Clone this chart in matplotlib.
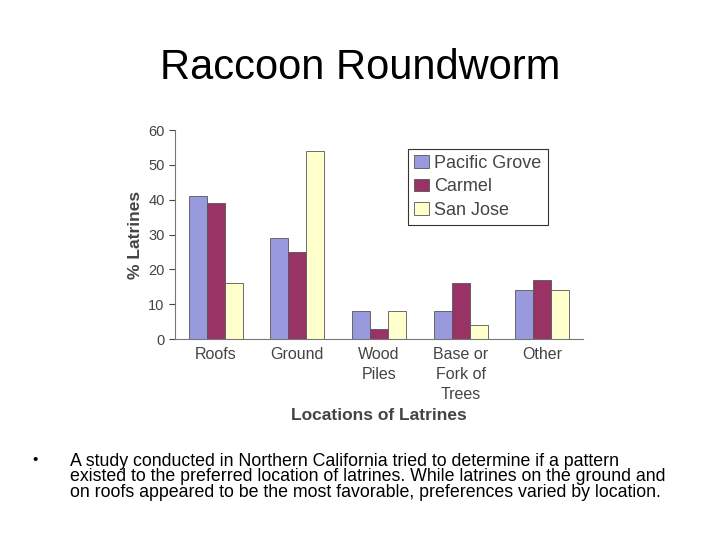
import matplotlib
matplotlib.use("Agg")
import matplotlib.pyplot as plt
import numpy as np

plt.rcParams["font.family"] = ["Liberation Sans", "DejaVu Sans"]

categories = ["Roofs", "Ground", "Wood\nPiles", "Base or\nFork of\nTrees", "Other"]
series_names = ["Pacific Grove", "Carmel", "San Jose"]
pacific_grove = [41, 29, 8, 8, 14]
carmel = [39, 25, 3, 16, 17]
san_jose = [16, 54, 8, 4, 14]
colors = ["#9999dd", "#993366", "#ffffcc"]

fig = plt.figure(figsize=(7.2, 5.4), dpi=100)
fig.patch.set_facecolor("white")
fig.text(0.5, 0.874, "Raccoon Roundworm", ha="center", va="center", fontsize=30)

ax = fig.add_axes([0.243, 0.372, 0.567, 0.387])
x = np.arange(len(categories))
w = 0.22
for i, (vals, name) in enumerate(zip([pacific_grove, carmel, san_jose], series_names)):
    ax.bar(x + (i - 1) * w, vals, w, color=colors[i], edgecolor="#555555", linewidth=0.6, label=name)
ax.set_xlim(-0.5, 4.5)
ax.set_ylim(0, 60)
ax.set_yticks(range(0, 61, 10))
ax.set_xticks(x)
ax.set_xticklabels(categories, fontsize=11.5, color="#444444", linespacing=1.4)
ax.tick_params(axis="y", labelsize=10.5, colors="#444444", length=4)
ax.tick_params(axis="x", length=0, pad=6)
for s in ["top", "right"]:
    ax.spines[s].set_visible(False)
for s in ["left", "bottom"]:
    ax.spines[s].set_color("#777777")
ax.set_ylabel("% Latrines", fontsize=12.5, fontweight="bold", color="#444444")
ax.set_xlabel("Locations of Latrines", fontsize=12.5, fontweight="bold", color="#444444", labelpad=4)
leg = ax.legend(loc="upper right", bbox_to_anchor=(0.935, 0.955), fontsize=13, frameon=True,
                fancybox=False, edgecolor="black", labelcolor="#444444",
                handlelength=0.8, handletextpad=0.3, borderpad=0.35, labelspacing=0.35)
leg.get_frame().set_linewidth(0.8)

fig.text(0.045, 0.148, "•", fontsize=11, va="center")
fig.text(0.097, 0.162, "A study conducted in Northern California tried to determine if a pattern\n"
         "existed to the preferred location of latrines. While latrines on the ground and\n"
         "on roofs appeared to be the most favorable, preferences varied by location.",
         fontsize=12.8, va="top", linespacing=0.92)
fig.savefig("out.png", dpi=100)
